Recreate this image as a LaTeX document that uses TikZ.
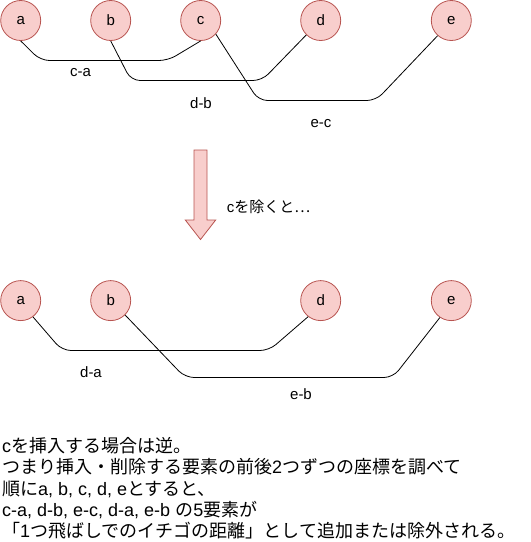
\documentclass[tikz,border=0pt]{standalone}
\usepackage{fontspec}
\setmainfont{Liberation Sans}
\newfontfamily\jp{Noto Sans CJK JP}
\definecolor{nodefill}{HTML}{F8CECC}
\definecolor{nodeline}{HTML}{B85450}
\begin{document}
\begin{tikzpicture}[x=1pt,y=-1pt,
  vert/.style={circle, draw=nodeline, fill=nodefill, line width=0.8pt, minimum size=40pt, inner sep=0pt, font=\fontsize{15}{18}\selectfont},
  link/.style={draw=black, line width=0.8pt, rounded corners=9pt},
  lbl/.style={font=\fontsize{15}{18}\selectfont, inner sep=0pt},
  txt/.style={font=\fontsize{18}{21.5}\selectfont, inner sep=0pt, anchor=west},
  bigarrow/.style={draw=nodeline, fill=nodefill, line width=0.8pt, line join=miter}]
\useasboundingbox (0,0) rectangle (531,542);
% top row
\node[vert] (a1) at (20.7,20.5) {a};
\node[vert] (b1) at (110.7,20.5) {b};
\node[vert] (c1) at (200.7,20.5) {c};
\node[vert] (d1) at (320.7,20.5) {d};
\node[vert] (e1) at (451.3,20.5) {e};
\draw[link] (a1.south) -- (40.5,60.5) -- (168,60.5) -- (c1.south);
\draw[link] (b1.south) -- (131,80.5) -- (262,80.5) -- (d1.-135);
\draw[link] (c1.-42) -- (258.5,100.5) -- (376,100.5) -- (e1.-132);
\node[lbl] (l1) at (80.5,72.5) {c-a};
\node[lbl] (l2) at (201,103) {d-b};
\node[lbl] (l3) at (321,124) {e-c};
% arrow
\draw[bigarrow] (194,150) -- (207,150) -- (207,220) -- (215.7,220) -- (200.5,239.5) -- (185.3,220) -- (194,220) -- cycle;
\node[lbl, anchor=west] (m) at (226.7,206.7) {c{\jp を除くと…}};
% bottom row
\node[vert] (a2) at (20.7,300.6) {a};
\node[vert] (b2) at (110.7,300.6) {b};
\node[vert] (d2) at (320.7,300.6) {d};
\node[vert] (e2) at (451.3,300.6) {e};
\draw[link] (a2.-53) -- (62,350.5) -- (269,350.5) -- (d2.-128);
\draw[link] (b2.-45) -- (185,377.5) -- (393,377.5) -- (e2.-124);
\node[lbl] (l4) at (91,372.5) {d-a};
\node[lbl] (l5) at (301,394) {e-b};
% text block
\node[txt] (t1) at (2,446) {c{\jp を挿入する場合は逆。}};
\node[txt] (t2) at (2,467) {{\jp つまり挿入・削除する要素の前後}2{\jp つずつの座標を調べて}};
\node[txt] (t3) at (2,489) {{\jp 順に}a, b, c, d, e{\jp とすると、}};
\node[txt] (t4) at (2,510) {c-a, d-b, e-c, d-a, e-b {\jp の}5{\jp 要素が}};
\node[txt] (t5) at (2,531) {{\jp 「}1{\jp つ飛ばしでのイチゴの距離」として追加または除外される。}};
\end{tikzpicture}
\end{document}
